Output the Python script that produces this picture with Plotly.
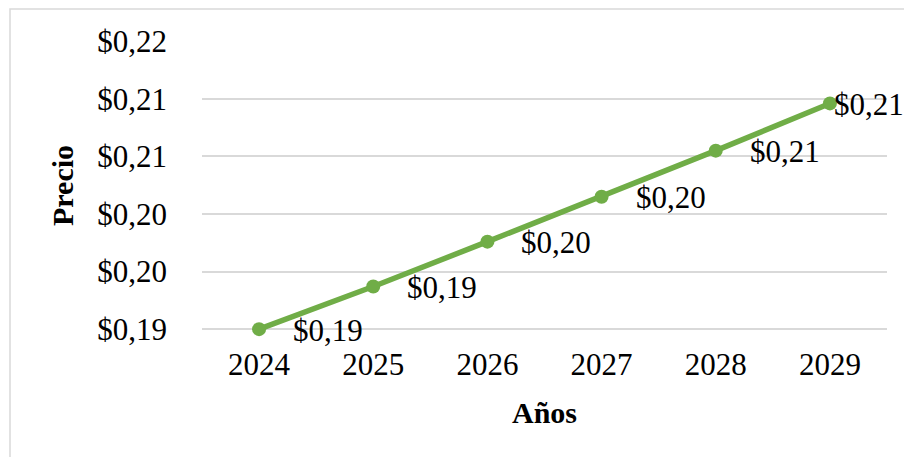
import plotly.graph_objects as go

# Price projection by year
YEARS = ["2024", "2025", "2026", "2027", "2028", "2029"]
PRICES = [0.1900, 0.1937, 0.1976, 0.2015, 0.2055, 0.2096]

TICK_VALS = [0.190, 0.195, 0.200, 0.205, 0.210, 0.215]
TICK_TEXT = ["$0,19", "$0,20", "$0,20", "$0,21", "$0,21", "$0,22"]

GREEN = "#70ad47"
GRID = "#d9d9d9"
FONT = "Liberation Serif"
W, H = 904, 457
L, R, T, B = 202, 17, 41, 126


def money(v):
    return "$" + f"{v:.2f}".replace(".", ",")


fig = go.Figure()
fig.add_trace(go.Scatter(
    x=YEARS, y=PRICES, mode="lines+markers",
    line=dict(color=GREEN, width=5.5),
    marker=dict(color=GREEN, size=14),
    cliponaxis=False,
    hoverinfo="skip", showlegend=False,
))

# data labels to the right of each point; the last one is pulled in at the edge
shifts = [32, 32, 32, 32, 32, 2]
for i, (v, s) in enumerate(zip(PRICES, shifts)):
    fig.add_annotation(
        x=i, y=v, xref="x", yref="y", text=money(v), showarrow=False,
        xanchor="left", yanchor="middle", xshift=s, yshift=-1,
        font=dict(family=FONT, size=31, color="black"),
    )

pw, ph = W - L - R, H - T - B


def px_x(p):
    return (p - L) / pw


def px_y(p):
    return (H - B - p) / ph


# axis titles
fig.add_annotation(
    x=0.5, y=px_y(412), xref="paper", yref="paper", text="<b>Años</b>",
    showarrow=False, xanchor="center", yanchor="middle",
    font=dict(family=FONT, size=30, color="black"),
)
fig.add_annotation(
    x=px_x(62), y=0.5, xref="paper", yref="paper", text="<b>Precio</b>",
    showarrow=False, xanchor="center", yanchor="middle", textangle=-90,
    font=dict(family=FONT, size=30, color="black"),
)

# chart frame
fig.add_shape(
    type="rect", xref="paper", yref="paper",
    x0=px_x(10), x1=px_x(915), y0=px_y(470), y1=px_y(9),
    line=dict(color=GRID, width=1.5), fillcolor="rgba(0,0,0,0)", layer="below",
)

fig.update_layout(
    width=W, height=H,
    margin=dict(l=L, r=R, t=T, b=B),
    paper_bgcolor="white", plot_bgcolor="white",
    font=dict(family=FONT, size=31, color="black"),
    xaxis=dict(
        type="category", range=[-0.5, 5.5],
        showgrid=False, zeroline=False, showline=False,
        ticks="", ticklabelstandoff=12,
        tickfont=dict(family=FONT, size=31, color="black"),
    ),
    yaxis=dict(
        range=[0.18984, 0.21502], tickvals=TICK_VALS, ticktext=TICK_TEXT,
        showgrid=True, gridcolor=GRID, gridwidth=1.5,
        zeroline=False, showline=False, ticks="",
        ticklabelstandoff=34,
        tickfont=dict(family=FONT, size=31, color="black"),
    ),
)

fig.write_html("out.html")
